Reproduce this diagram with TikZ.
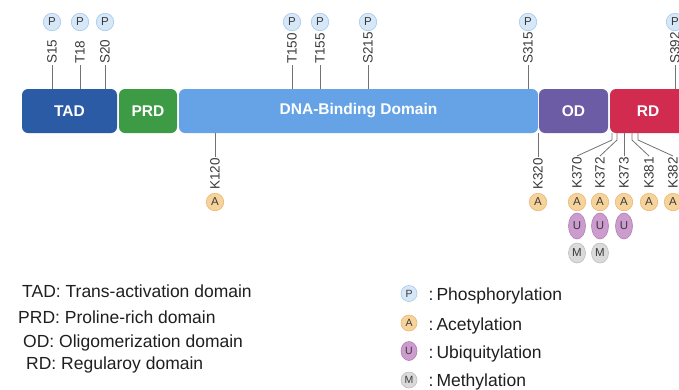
\documentclass[tikz,border=0pt]{standalone}
\usepackage{fontspec}
\setmainfont{Liberation Sans}
\usetikzlibrary{shapes.geometric}
\definecolor{tadc}{HTML}{2C5BA6}
\definecolor{prdc}{HTML}{3E9B45}
\definecolor{dbdc}{HTML}{65A3E6}
\definecolor{odc}{HTML}{6B5CA5}
\definecolor{rdc}{HTML}{D12B50}
\definecolor{pfill}{HTML}{D6E7F8}
\definecolor{pdraw}{HTML}{A6C8EC}
\definecolor{afill}{HTML}{F7D39C}
\definecolor{adraw}{HTML}{E9B772}
\definecolor{ufill}{HTML}{CC9CCE}
\definecolor{udraw}{HTML}{B07FB3}
\definecolor{mfill}{HTML}{DADADA}
\definecolor{mdraw}{HTML}{BDBDBD}
\definecolor{txt}{HTML}{3A3A3A}
\begin{document}
\begin{tikzpicture}[x=1pt,y=-1pt,
  dom/.style={rectangle, rounded corners=6pt, minimum height=44pt, text=white,
    font=\fontsize{15.5}{15.5}\selectfont\bfseries, inner sep=0pt},
  ptm/.style={circle, minimum size=17.5pt, inner sep=0pt, line width=0.6pt,
    font=\fontsize{11.5}{11.5}\selectfont, text=txt},
  pc/.style={ptm, fill=pfill, draw=pdraw},
  ac/.style={ptm, fill=afill, draw=adraw},
  uc/.style={ptm, ellipse, minimum width=17pt, minimum height=26pt, fill=ufill, draw=udraw},
  mc/.style={ptm, ellipse, minimum width=17pt, minimum height=20pt, fill=mfill, draw=mdraw},
  lp/.style={minimum size=16pt, font=\fontsize{10.5}{10.5}\selectfont},
  res/.style={rotate=90, inner sep=1pt, font=\fontsize{13.5}{13.5}\selectfont, text=txt},
  stem/.style={draw=black!55, line width=0.8pt},
  leg/.style={anchor=base west, font=\fontsize{17.5}{17.5}\selectfont, text=black!88, inner sep=0pt}
]
\useasboundingbox[fill=white] (0,0) rectangle (679,389);

% domains
\node[dom, fill=tadc, minimum width=95pt] (tad) at (69.5,111) {TAD};
\node[dom, fill=prdc, minimum width=58pt] (prd) at (148,111) {PRD};
\node[dom, fill=dbdc, minimum width=359pt] (dbd) at (358.5,111) {DNA-Binding Domain};
\node[dom, fill=odc, minimum width=69pt] (od) at (573.5,111) {OD};
\node[dom, fill=rdc, minimum width=76pt] (rd) at (648,111) {RD};

% upper phosphorylation sites
\foreach \n/\x/\d in {S15/52/tad, T18/80/tad, S20/105/tad, T150/292/dbd, T155/320/dbd, S215/368/dbd, S315/528/dbd, S392/675/rd}{
  \node[res, anchor=west] (l\n) at (\x,65) {\n};
  \draw[stem] (l\n.west) -- (l\n.west |- \d.north);
  \node[pc] (p\n) at (\x,22) {P};
}

% lower sites
\node[res, anchor=east] (lK120) at (215,157) {K120};
\draw[stem] (lK120.east) -- (lK120.east |- dbd.south);
\node[ac] (aK120) at (215,202) {A};

\node[res, anchor=east] (lK320) at (538,157) {K320};
\draw[stem] (lK320.east) -- (lK320.east |- od.south);
\node[ac] (aK320) at (538,202) {A};

\foreach \n/\x/\b in {K370/577/612, K372/600/617, K373/624/624, K381/649/632, K382/673/638}{
  \node[res, anchor=east] (l\n) at (\x,156) {\n};
  \coordinate (b\n) at (\b,140);
  \draw[stem] (l\n.east) -- (b\n) -- (b\n |- rd.south);
  \node[ac] (a\n) at (\x,202) {A};
}
\node[uc] (uK370) at (577,226) {U};
\node[uc] (uK372) at (600,226) {U};
\node[uc] (uK373) at (624,226) {U};
\node[mc] (mK370) at (577,253) {M};
\node[mc] (mK372) at (600,253) {M};

% left legend
\node[leg] (lg1) at (22,297) {TAD: Trans-activation domain};
\node[leg] (lg2) at (18,323) {PRD: Proline-rich domain};
\node[leg] (lg3) at (23,347) {OD: Oligomerization domain};
\node[leg] (lg4) at (26,369) {RD: Regularoy domain};

% right legend
\node[pc, lp] (kp) at (409,293.5) {P};
\node[ac, lp] (ka) at (409,323) {A};
\node[uc, lp, minimum height=19pt] (ku) at (409,351) {U};
\node[mc, lp] (km) at (409,380) {M};
\node[leg] (tp) at (428.5,300) {:\kern3pt Phosphorylation};
\node[leg] (ta) at (428.5,330) {:\kern3pt Acetylation};
\node[leg] (tu) at (428.5,358) {:\kern3pt Ubiquitylation};
\node[leg] (tm) at (428.5,386.5) {:\kern3pt Methylation};
\end{tikzpicture}
\end{document}
